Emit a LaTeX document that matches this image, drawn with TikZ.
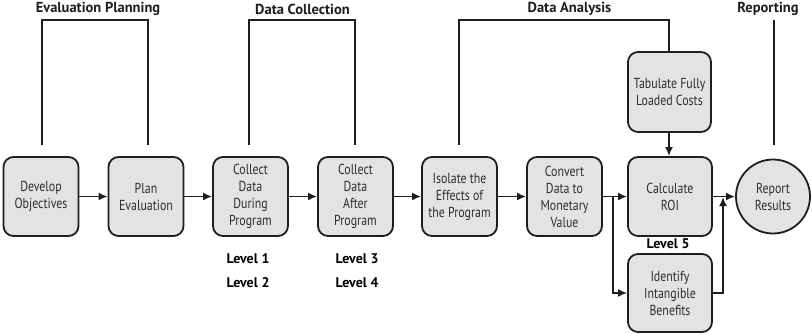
\documentclass[tikz,border=0pt]{standalone}
\usepackage{fontspec}
\setmainfont{PT Sans}[FakeStretch=0.82]
\newfontfamily\headfont{PT Sans}
\usetikzlibrary{arrows.meta}
\definecolor{ink}{HTML}{1E1E1E}
\definecolor{boxfill}{HTML}{E3E3E3}
\definecolor{txt}{HTML}{2E2E2E}
\tikzset{
  x=1pt, y=-1pt,
  stage/.style={draw=ink, line width=1.8pt, fill=boxfill, rounded corners=10pt,
    minimum width=75pt, minimum height=79pt, inner sep=1pt, align=center,
    font=\fontsize{14.5}{17}\selectfont, text=txt},
  roundstage/.style={draw=ink, line width=1.8pt, fill=boxfill, circle,
    minimum size=74pt, inner sep=0pt, align=center,
    font=\fontsize{14.5}{17}\selectfont, text=txt},
  phase/.style={font=\headfont\bfseries\fontsize{14.5}{17}\selectfont, text=ink},
  levellabel/.style={font=\headfont\bfseries\fontsize{14}{16}\selectfont, text=black},
  flow/.style={draw=ink, line width=1.8pt, -{Latex[length=9pt,width=8pt]}},
  bracket/.style={draw=ink, line width=1.5pt},
}
\begin{document}
\begin{tikzpicture}
\useasboundingbox (0,0) rectangle (812,333);

% process stages
\node[stage] (dev) at (41,196.5) {Develop\\Objectives};
\node[stage] (plan) at (146,196.5) {Plan\\Evaluation};
\node[stage] (during) at (250.5,196.5) {Collect\\Data\\During\\Program};
\node[stage] (after) at (355.5,196.5) {Collect\\Data\\After\\Program};
\node[stage] (isolate) at (459.5,196.5) {Isolate the\\Effects of\\the Program};
\node[stage] (convert) at (564.5,196.5) {Convert\\Data to\\Monetary\\Value};
\node[stage, minimum width=84pt] (roi) at (670,196.5) {Calculate\\ROI};
\node[stage, minimum width=83pt, minimum height=80pt] (tab) at (669.5,92) {Tabulate Fully\\Loaded Costs};
\node[stage, minimum width=84pt, minimum height=78pt] (ident) at (670,293) {Identify\\Intangible\\Benefits};
\node[roundstage] (report) at (773,196.5) {Report\\Results};

% phase headings
\node[phase] (hplan) at (98,9) {Evaluation Planning};
\node[phase] (hcoll) at (302.5,9) {Data Collection};
\node[phase] (hanal) at (569.5,9) {Data Analysis};
\node[phase] (hrep) at (768,9) {Reporting};

% level labels
\node[levellabel] (l1) at (248,259) {Level 1};
\node[levellabel] (l2) at (248,283) {Level 2};
\node[levellabel] (l3) at (357,259) {Level 3};
\node[levellabel] (l4) at (357,283) {Level 4};
\node[levellabel] (l5) at (668,244) {Level 5};

% phase brackets
\coordinate (a1) at (42,145); \coordinate (a2) at (148,145);
\draw[bracket] (a1) |- (95,20) -| (a2);
\coordinate (b1) at (249,145); \coordinate (b2) at (355,145);
\draw[bracket] (b1) |- (300,20) -| (b2);
\coordinate (c1) at (459,145);
\draw[bracket] (c1) |- (600,20) -| (tab.north -| 669,0);
\coordinate (d1) at (774,20); \coordinate (d2) at (774,145);
\draw[bracket] (d1) -- (d2);

% flow arrows
\draw[flow] (dev) -- (plan);
\draw[flow] (plan) -- (during);
\draw[flow] (during) -- (after);
\draw[flow] (after) -- (isolate);
\draw[flow] (isolate) -- (convert);
\draw[flow] (convert.east) -- (roi.west);
\coordinate (split) at (613,196.5);
\draw[flow] (split) |- (ident.west);
\draw[flow] (tab.south -| 669,0) -- (roi.north -| 669,0);
\draw[flow] (roi.east) -- (report.west);
\coordinate (join) at (723,197);
\draw[flow] (ident.east) -| (join);
\end{tikzpicture}
\end{document}
